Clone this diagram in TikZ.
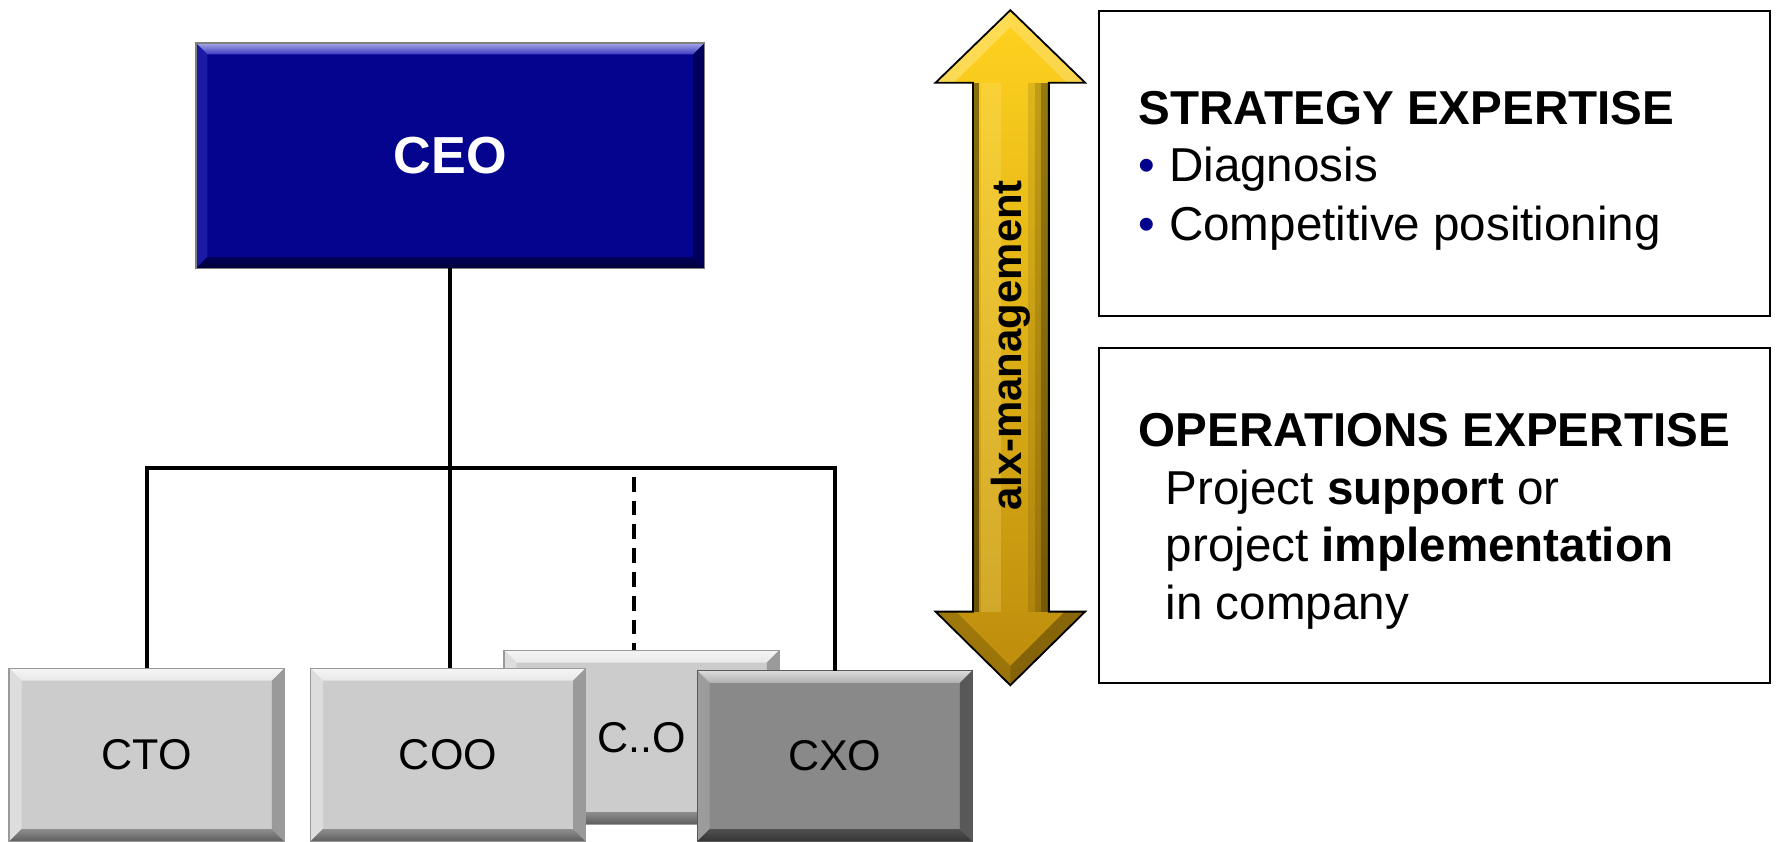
\documentclass[tikz,border=0pt]{standalone}
\usepackage{fontspec}
\setmainfont{Liberation Sans}
\usetikzlibrary{calc}
\definecolor{ceoblue}{HTML}{04048E}
\definecolor{ceohi}{HTML}{3A3AC4}
\definecolor{ceoleft}{HTML}{1A1AA4}
\definecolor{ceoright}{HTML}{00005C}
\definecolor{ceobot}{HTML}{000058}
\definecolor{boxgray}{HTML}{CCCCCC}
\definecolor{grayhi}{HTML}{E8E8E8}
\definecolor{grayleft}{HTML}{DDDDDD}
\definecolor{grayright}{HTML}{9A9A9A}
\definecolor{graybot}{HTML}{8E8E8E}
\definecolor{boxdark}{HTML}{898989}
\definecolor{darkhi}{HTML}{B0B0B0}
\definecolor{darkleft}{HTML}{9C9C9C}
\definecolor{darkright}{HTML}{585858}
\definecolor{darkbot}{HTML}{505050}
\definecolor{bulletblue}{HTML}{00008C}
\definecolor{gtop}{HTML}{FFD21F}
\definecolor{gmain}{HTML}{FFC000}
\definecolor{gbot}{HTML}{BC8C0C}
\definecolor{glight}{HTML}{FFE680}
\newcommand\bevelit[6]{%
  \shade[top color=#3!45!white, bottom color=#3] (#1.north west) -- (#1.north east) -- ($(#1.north east)+(-#2,#2)$) -- ($(#1.north west)+(#2,#2)$) -- cycle;
  \fill[#4] (#1.north west) -- ($(#1.north west)+(#2,#2)$) -- ($(#1.south west)+(#2,-#2)$) -- (#1.south west) -- cycle;
  \fill[#5] (#1.north east) -- ($(#1.north east)+(-#2,#2)$) -- ($(#1.south east)+(-#2,-#2)$) -- (#1.south east) -- cycle;
  \shade[top color=#6, bottom color=#6!65!black] (#1.south west) -- (#1.south east) -- ($(#1.south east)+(-#2,-#2)$) -- ($(#1.south west)+(#2,-#2)$) -- cycle;
  \draw[#5, line width=1pt] (#1.north west) rectangle (#1.south east);
}
\tikzset{
  conn/.style={line width=3.5pt, black},
  orgbox/.style={rectangle, inner sep=0pt, outer sep=0pt, minimum width=243pt, minimum height=153pt, font=\fontsize{38}{44}\selectfont},
  lightbox/.style={orgbox, fill=boxgray},
  darkbox/.style={orgbox, fill=boxdark},
  infobox/.style={draw=black, line width=2pt, fill=white, inner sep=0pt, outer sep=0pt},
  infotext/.style={anchor=base west, inner sep=0pt, font=\fontsize{42}{50}\selectfont},
  arrowpath/.style={line join=miter},
}
\begin{document}
\begin{tikzpicture}[x=1pt, y=-1pt]
\fill[white] (0,0) rectangle (1568,743);
\useasboundingbox (0,0) rectangle (1568,743);

% CEO
\node[rectangle, inner sep=0pt, outer sep=0pt, minimum width=449pt, minimum height=199pt, fill=ceoblue, text=white, font=\bfseries\fontsize{46}{52}\selectfont] (CEO) at (397.5,137.5) {CEO};
\bevelit{CEO}{10}{ceohi}{ceoleft}{ceoright}{ceobot}
\draw[gray, line width=1.2pt] (CEO.north west) rectangle (CEO.south east);

% lower boxes
\node[lightbox] (CTO) at (129.5,666.5) {CTO};
\bevelit{CTO}{11}{grayhi}{grayleft}{grayright}{graybot}
\node[lightbox, minimum height=154pt] (CDO) at (566.5,651) {C..O};
\bevelit{CDO}{11}{grayhi}{grayleft}{grayright}{graybot}
\node[lightbox] (COO) at (395.5,666.5) {COO};
\bevelit{COO}{11}{grayhi}{grayleft}{grayright}{graybot}
\node[darkbox, minimum height=151pt] (CXO) at (737,667.5) {CXO};
\bevelit{CXO}{11}{darkhi}{darkleft}{darkright}{darkbot}

% connectors
\coordinate (barY) at (0,413);
\coordinate (dashtop) at (560,421);
\draw[conn] (CEO.south) -- (CEO.south |- COO.north);
\draw[conn, line join=miter] (CTO.north) -- (CTO.north |- barY) -- (CXO.north |- barY) -- (CXO.north);
\draw[conn, dash pattern=on 13pt off 8pt] (dashtop) -- (dashtop |- CDO.north);

% double arrow
\shade[top color=gtop, middle color=gmain, bottom color=gbot] (892,9) -- (958,73) -- (926,73) -- (926,540) -- (958,540) -- (892,605) -- (826,540) -- (859,540) -- (859,73) -- (826,73) -- cycle;
% head highlights
\fill[glight, fill opacity=0.55] (892,9) -- (826,73) -- (842,73) -- (892,24) -- cycle;
\fill[white, fill opacity=0.2] (892,9) -- (958,73) -- (942,73) -- (892,24) -- cycle;
\fill[black, fill opacity=0.18] (826,540) -- (892,605) -- (892,588) -- (844,540) -- cycle;
\fill[black, fill opacity=0.30] (958,540) -- (892,605) -- (892,588) -- (940,540) -- cycle;
% shaft edge shadows
\fill[black, fill opacity=0.45] (859,73) rectangle (864,540);
\fill[glight, fill opacity=0.25] (866,73) rectangle (884,540);
\fill[black, fill opacity=0.10] (908,73) rectangle (914,540);
\fill[black, fill opacity=0.22] (914,73) rectangle (919,540);
\fill[black, fill opacity=0.40] (919,73) rectangle (926,540);
\draw[black, line width=1.6pt, arrowpath] (892,9) -- (958,73) -- (926,73) -- (926,540) -- (958,540) -- (892,605) -- (826,540) -- (859,540) -- (859,73) -- (826,73) -- cycle;
\node[rotate=90, inner sep=0pt, font=\bfseries\fontsize{37}{44}\selectfont] (alx) at (892,305) {alx-management};

% strategy box
\node[infobox, minimum width=593pt, minimum height=269pt] (strat) at (1266.5,144.5) {};
\node[infotext, font=\bfseries\fontsize{42}{50}\selectfont] (stitle) at (1005,109.5) {STRATEGY EXPERTISE};
\node[infotext, text=bulletblue] (sb1) at (1005,160) {\textbullet};
\node[infotext] (s1) at (1032,160) {Diagnosis};
\node[infotext, text=bulletblue] (sb2) at (1005,212) {\textbullet};
\node[infotext] (s2) at (1032,212) {Competitive positioning};

% operations box
\node[infobox, minimum width=593pt, minimum height=296pt] (ops) at (1266.5,455) {};
\node[infotext, font=\bfseries\fontsize{42}{50}\selectfont] (otitle) at (1005,394.5) {OPERATIONS EXPERTISE};
\node[infotext] (o1) at (1029,445) {Project \textbf{support} or};
\node[infotext] (o2) at (1029,496) {project \textbf{implementation}};
\node[infotext] (o3) at (1029,547) {in company};
\end{tikzpicture}
\end{document}
